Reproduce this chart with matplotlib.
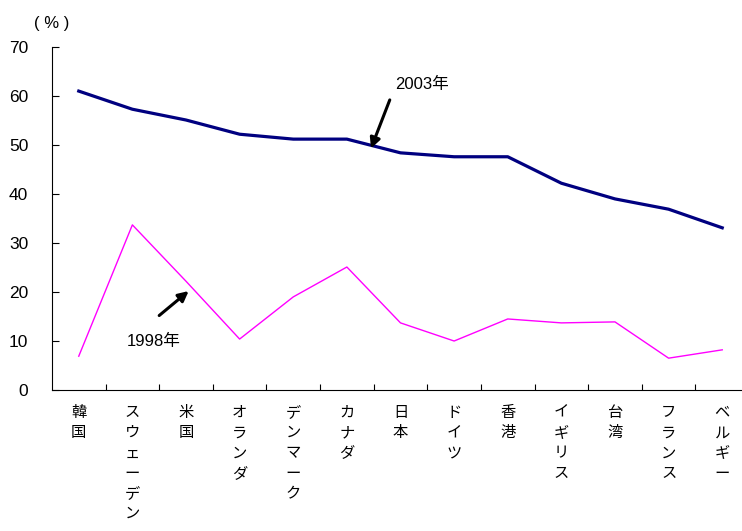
import matplotlib.pyplot as plt
import numpy as np

countries = ['韓国', 'スウェーデン', '米国', 'オランダ', 'デンマーク', 'カナダ', '日本',
             'ドイツ', '香港', 'イギリス', '台湾', 'フランス', 'ベルギー']
share_2003 = [61.0, 57.3, 55.1, 52.2, 51.2, 51.2, 48.4, 47.6, 47.6, 42.2, 39.0, 36.9, 33.1]
share_1998 = [6.9, 33.7, 22.2, 10.4, 19.0, 25.1, 13.7, 10.0, 14.5, 13.7, 13.9, 6.5, 8.2]

jp = ['Noto Sans CJK JP', 'DejaVu Sans']
num = ['Liberation Sans', 'Noto Sans CJK JP']

fig = plt.figure(figsize=(7.42, 5.31), dpi=100)
ax = fig.add_axes([0.070, 0.2655, 0.9395, 0.646])

x = np.arange(len(countries))
ax.plot(x, share_2003, color='#000080', lw=2.3, solid_joinstyle='round')
ax.plot(x, share_1998, color='#ff00ff', lw=1.0)

ax.set_xlim(-0.5, len(countries) - 0.5)
ax.set_ylim(0, 70)
ax.set_yticks(range(0, 71, 10))
ax.set_yticklabels([str(v) for v in range(0, 71, 10)], family=num, fontsize=12.5)
ax.tick_params(axis='y', direction='in', length=5, width=0.8, pad=17)

ax.set_xticks(x)
ax.set_xticklabels(['\n'.join(c) for c in countries], family=jp, fontsize=11,
                   linespacing=1.25, va='top')
ax.tick_params(axis='x', which='major', length=0, pad=10)
ax.set_xticks(x[:-1] + 0.5, minor=True)
ax.tick_params(axis='x', which='minor', direction='in', length=4, width=0.8)

for side in ('top', 'right'):
    ax.spines[side].set_visible(False)
for side in ('left', 'bottom'):
    ax.spines[side].set_linewidth(0.8)

ax.text(-0.5, 74.7, '( % )', family=num, fontsize=12, ha='center', va='center')

# series labels with arrows
ax.annotate('', xy=(5.45, 49.3), xytext=(5.8, 59.2),
            arrowprops=dict(arrowstyle='-|>,head_length=0.6,head_width=0.3',
                            color='black', lw=2.2, shrinkA=0, shrinkB=0))
ax.text(6.4, 62.3, '2003年', family=num + ['DejaVu Sans'], fontsize=12,
        ha='center', va='center')
ax.annotate('', xy=(2.05, 20.2), xytext=(1.5, 15.2),
            arrowprops=dict(arrowstyle='-|>,head_length=0.6,head_width=0.3',
                            color='black', lw=2.2, shrinkA=0, shrinkB=0))
ax.text(1.4, 9.9, '1998年', family=num + ['DejaVu Sans'], fontsize=12,
        ha='center', va='center')

fig.savefig('out.png', dpi=100)
